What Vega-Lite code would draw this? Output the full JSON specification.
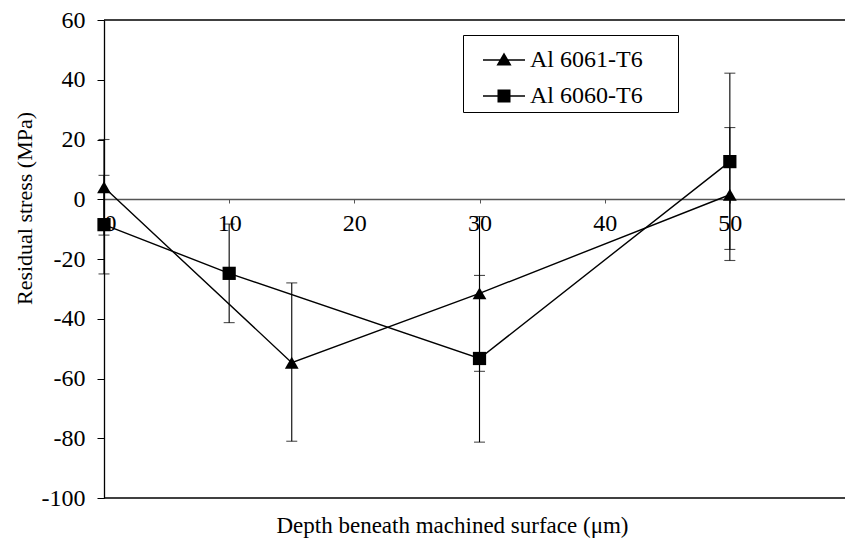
{
  "$schema": "https://vega.github.io/schema/vega-lite/v6.json",
  "width": 741,
  "height": 478,
  "autosize": {"type": "none"},
  "padding": {"left": 104, "top": 20, "right": 0, "bottom": 48},
  "background": "white",
  "config": {
    "view": {"stroke": null},
    "font": "Liberation Serif",
    "axis": {"labelFont": "Liberation Serif", "titleFont": "Liberation Serif", "labelColor": "black", "titleColor": "black", "domainColor": "black", "tickColor": "black", "titleFontWeight": "normal", "grid": false},
    "legend": {"labelFont": "Liberation Serif"}
  },
  "data": {
    "values": [
      {"series": "Al 6061-T6", "depth": 0, "stress": 4, "low": -12, "high": 20},
      {"series": "Al 6061-T6", "depth": 15, "stress": -54.7, "low": -81, "high": -28},
      {"series": "Al 6061-T6", "depth": 30, "stress": -31.5, "low": -57.6, "high": -5.8},
      {"series": "Al 6061-T6", "depth": 50, "stress": 1.5, "low": -20.5, "high": 24},
      {"series": "Al 6060-T6", "depth": 0, "stress": -8.5, "low": -25, "high": 8},
      {"series": "Al 6060-T6", "depth": 10, "stress": -24.8, "low": -41.3, "high": -8.3},
      {"series": "Al 6060-T6", "depth": 30, "stress": -53.3, "low": -81.3, "high": -25.5},
      {"series": "Al 6060-T6", "depth": 50, "stress": 12.6, "low": -16.8, "high": 42.2}
    ]
  },
  "layer": [
    {
      "data": {"values": [{"v": 60}, {"v": -100}]},
      "mark": {"type": "rule", "color": "black", "strokeWidth": 1.3},
      "encoding": {"y": {"field": "v", "type": "quantitative"}}
    },
    {
      "mark": {"type": "rule", "color": "black", "strokeWidth": 1.1},
      "encoding": {
        "x": {"field": "depth", "type": "quantitative", "scale": {"domain": [0, 59.2], "nice": false, "zero": false},
          "axis": {"values": [0, 10, 20, 30, 40, 50], "offset": -299, "tickSize": 4, "labelPadding": 8, "labelFontSize": 24, "domainWidth": 1.3, "domainColor": "#555", "tickColor": "#555",
            "title": "Depth beneath machined surface (μm)", "titleFontSize": 23, "titleX": 348, "titleY": 326, "titleBaseline": "middle", "titleAnchor": "start", "titleAlign": "center"}},
        "y": {"field": "low", "type": "quantitative", "scale": {"domain": [-100, 60], "nice": false, "zero": false},
          "axis": {"values": [60, 40, 20, 0, -20, -40, -60, -80, -100], "labelExpr": "'' + datum.value", "tickSize": 7, "labelPadding": 12, "labelFontSize": 24, "domainWidth": 1.3,
            "title": "Residual stress (MPa)", "titleFontSize": 22, "titleX": -80, "titleY": 188, "titleBaseline": "middle", "titleAlign": "center", "titleAngle": -90}},
        "y2": {"field": "high"}
      }
    },
    {
      "mark": {"type": "tick", "orient": "horizontal", "color": "black", "size": 11, "thickness": 1.1},
      "encoding": {"x": {"field": "depth", "type": "quantitative"}, "y": {"field": "low", "type": "quantitative"}}
    },
    {
      "mark": {"type": "tick", "orient": "horizontal", "color": "black", "size": 11, "thickness": 1.1},
      "encoding": {"x": {"field": "depth", "type": "quantitative"}, "y": {"field": "high", "type": "quantitative"}}
    },
    {
      "mark": {"type": "line", "color": "black", "strokeWidth": 1.4},
      "encoding": {
        "x": {"field": "depth", "type": "quantitative"},
        "y": {"field": "stress", "type": "quantitative"},
        "detail": {"field": "series", "type": "nominal"}
      }
    },
    {
      "transform": [{"filter": "datum.series === 'Al 6061-T6'"}],
      "mark": {"type": "point", "shape": "triangle-up", "filled": true, "color": "black", "size": 190, "opacity": 1},
      "encoding": {"x": {"field": "depth", "type": "quantitative"}, "y": {"field": "stress", "type": "quantitative"}}
    },
    {
      "transform": [{"filter": "datum.series === 'Al 6060-T6'"}],
      "mark": {"type": "point", "shape": "square", "filled": true, "color": "black", "size": 175, "opacity": 1},
      "encoding": {"x": {"field": "depth", "type": "quantitative"}, "y": {"field": "stress", "type": "quantitative"}}
    },
    {
      "transform": [{"filter": "datum.depth < -1000"}],
      "mark": {"type": "point", "filled": true, "color": "black", "opacity": 1},
      "encoding": {
        "x": {"field": "depth", "type": "quantitative"},
        "y": {"field": "stress", "type": "quantitative"},
        "shape": {
          "field": "series", "type": "nominal",
          "scale": {"domain": ["Al 6061-T6", "Al 6060-T6"], "range": ["M-1,-0.032H1V0.032H-1ZM0,-0.36L0.36,0.26L-0.36,0.26Z", "M-1,-0.032H1V0.032H-1ZM-0.31,-0.31H0.31V0.31H-0.31Z"]},
          "legend": {
            "title": "MM", "titleOrient": "right", "titleOpacity": 0, "titleFontSize": 14, "titlePadding": 4,
            "orient": "none", "legendX": 359, "legendY": 15,
            "padding": 4, "symbolSize": 1764, "symbolOffset": 16, "symbolFillColor": "black", "symbolStrokeWidth": 0,
            "labelFontSize": 24, "labelColor": "black", "labelOffset": 5, "rowPadding": 3,
            "strokeColor": "black", "fillColor": "white"
          }
        }
      }
    }
  ]
}
